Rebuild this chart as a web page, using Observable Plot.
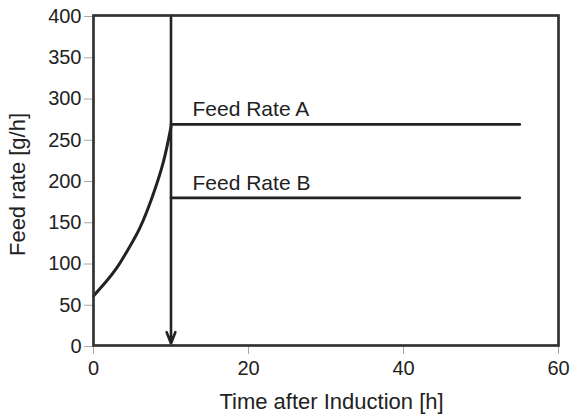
<!DOCTYPE html>
<html>
<head>
<meta charset="utf-8">
<script src="https://cdn.jsdelivr.net/npm/d3@7"></script>
<script src="https://cdn.jsdelivr.net/npm/@observablehq/plot@0.6"></script>
<style>
  html, body { margin: 0; padding: 0; background: #fff; }
  #chart svg { display: block; }
</style>
</head>
<body>
<div id="chart"></div>
<script>
// Exponential feed phase
const curveTime = [0, 1.5, 3, 4.5, 6, 7.5, 9, 10];
const curveRate = [60, 76, 94, 117, 143, 178, 222, 265];

// Constant feed phases after the switch
const seriesNames = ["Feed Rate A", "Feed Rate B"];
const seriesRate = [268, 179];
const constStart = 10;
const constEnd = 55;

// Induction-switch arrow
const switchTime = 10;
const arrowTop = 400;
const arrowBottom = 0;

// Axes
const xTicks = [0, 20, 40, 60];
const yTicks = [0, 50, 100, 150, 200, 250, 300, 350, 400];
const xLabel = "Time after Induction [h]";
const yLabel = "Feed rate [g/h]";

const curve = curveTime.map((t, i) => ({t, rate: curveRate[i]}));
const constant = seriesNames.flatMap((name, i) => [
  {name, t: constStart, rate: seriesRate[i]},
  {name, t: constEnd, rate: seriesRate[i]}
]);
const labels = seriesNames.map((name, i) => ({name, t: constStart, rate: seriesRate[i]}));

const ink = "#222";
const font = "'Liberation Sans', Arial, Helvetica, sans-serif";

const chart = Plot.plot({
  width: 570,
  height: 414,
  marginLeft: 93,
  marginRight: 12,
  marginTop: 15,
  marginBottom: 69,
  style: {fontFamily: font, fontSize: "20px", color: ink, background: "#fff"},
  x: {domain: [0, 60]},
  y: {domain: [0, 400]},
  marks: [
    Plot.axisY(yTicks, {tickSize: 9, tickPadding: 3, stroke: "#a8a8a8", fill: ink, fontSize: 20, label: null, dy: 1}),
    Plot.axisX(xTicks, {tickSize: 9, tickPadding: 6, stroke: "#a8a8a8", fill: ink, fontSize: 20, label: null}),
    Plot.line(curve, {x: "t", y: "rate", stroke: ink, strokeWidth: 3, curve: "natural"}),
    Plot.line(constant, {x: "t", y: "rate", z: "name", stroke: ink, strokeWidth: 2.7}),
    Plot.arrow([{t: switchTime}], {x1: "t", x2: "t", y1: () => arrowTop, y2: () => arrowBottom, stroke: ink, strokeWidth: 2.6, headLength: 7, headAngle: 42, insetEnd: 2}),
    Plot.text(labels, {x: "t", y: "rate", text: "name", textAnchor: "start", lineAnchor: "middle", dx: 21.5, dy: -15, fontSize: 21, fill: ink}),
    Plot.frame({stroke: "#333", strokeWidth: 2.7}),
    Plot.text([xLabel], {frameAnchor: "bottom", textAnchor: "middle", lineAnchor: "middle", dx: 5.5, dy: 56, fontSize: 22, fill: ink}),
    Plot.text([yLabel], {frameAnchor: "left", textAnchor: "middle", lineAnchor: "middle", rotate: -90, dx: -76, dy: 4, fontSize: 22, fill: ink})
  ]
});
document.getElementById("chart").appendChild(chart);
</script>
</body>
</html>
